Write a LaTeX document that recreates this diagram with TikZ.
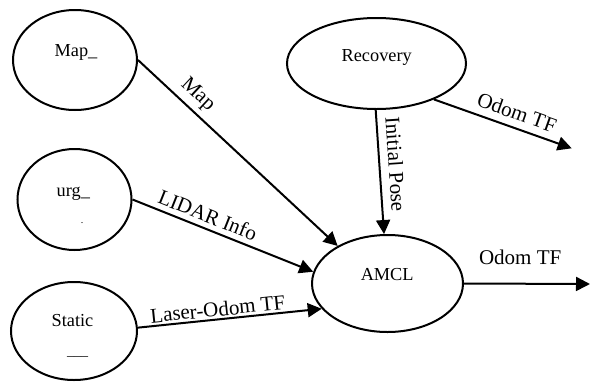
\documentclass[tikz,border=0pt]{standalone}
\usepackage{fontspec}
\setmainfont{Liberation Serif}
\usetikzlibrary{arrows.meta,shapes.geometric}

\begin{document}
\begin{tikzpicture}[x=1pt,y=-1pt,
  proc/.style={draw, line width=2pt, ellipse, inner sep=0pt},
  ntext/.style={anchor=base, inner sep=0pt, font=\fontsize{18.3}{20}\selectfont},
  flow/.style={line width=2pt, -{Triangle[length=14pt,width=14pt]}},
  elab/.style={sloped, anchor=south, inner xsep=0pt, font=\fontsize{21}{24}\selectfont}
]
\useasboundingbox (0,0) rectangle (592,381);

% process ellipses
\node[proc, minimum width=124pt, minimum height=100pt] (map) at (75,60) {};
\node[proc, minimum width=114pt, minimum height=101pt] (urg) at (74.5,199.5) {};
\node[proc, minimum width=126pt, minimum height=98pt] (static) at (74,331) {};
\node[proc, minimum width=179pt, minimum height=91pt] (recovery) at (376.5,63.5) {};
\node[proc, minimum width=151pt, minimum height=97pt] (amcl) at (387.5,283.5) {};

% process names
\node[ntext] (mapT) at (76,56) {Map\_};
\node[ntext] (urgT) at (73.3,196) {urg\_};
\node[ntext, font=\fontsize{10}{12}\selectfont] (urgDot) at (82,223) {.};
\node[ntext] (staticT) at (72.5,326) {Static};
\node[ntext, font=\fontsize{14}{16}\selectfont] (staticDash) at (77.5,355) {\_\_\_};
\node[ntext] (recoveryT) at (376.7,61) {Recovery};
\node[ntext] (amclT) at (387.2,280) {AMCL};

% free ends of the outgoing transforms
\coordinate (recOut) at (571.7,148.3);
\coordinate (amclOut) at (590,284);

% data flows
\draw[flow] (map.0) -- node[elab, pos=.247, inner ysep=5pt] {Map} (amcl.143);
\draw[flow] (urg.0) -- node[elab, pos=.39, inner ysep=5pt] {LIDAR Info} (amcl.171);
\draw[flow] (static.3) -- node[elab, pos=.44, inner ysep=2pt] {Laser-Odom TF} (amcl.201);
\draw[flow] (recovery.269) -- node[elab, pos=.447, inner ysep=8pt] {Initial Pose} (amcl.94);
\draw[flow] (recovery.328) -- node[elab, pos=.565, inner ysep=7pt] {Odom TF} (recOut);
\draw[flow] (amcl.0) -- node[elab, pos=.445, inner ysep=18pt] {Odom TF} (amclOut);
\end{tikzpicture}
\end{document}
